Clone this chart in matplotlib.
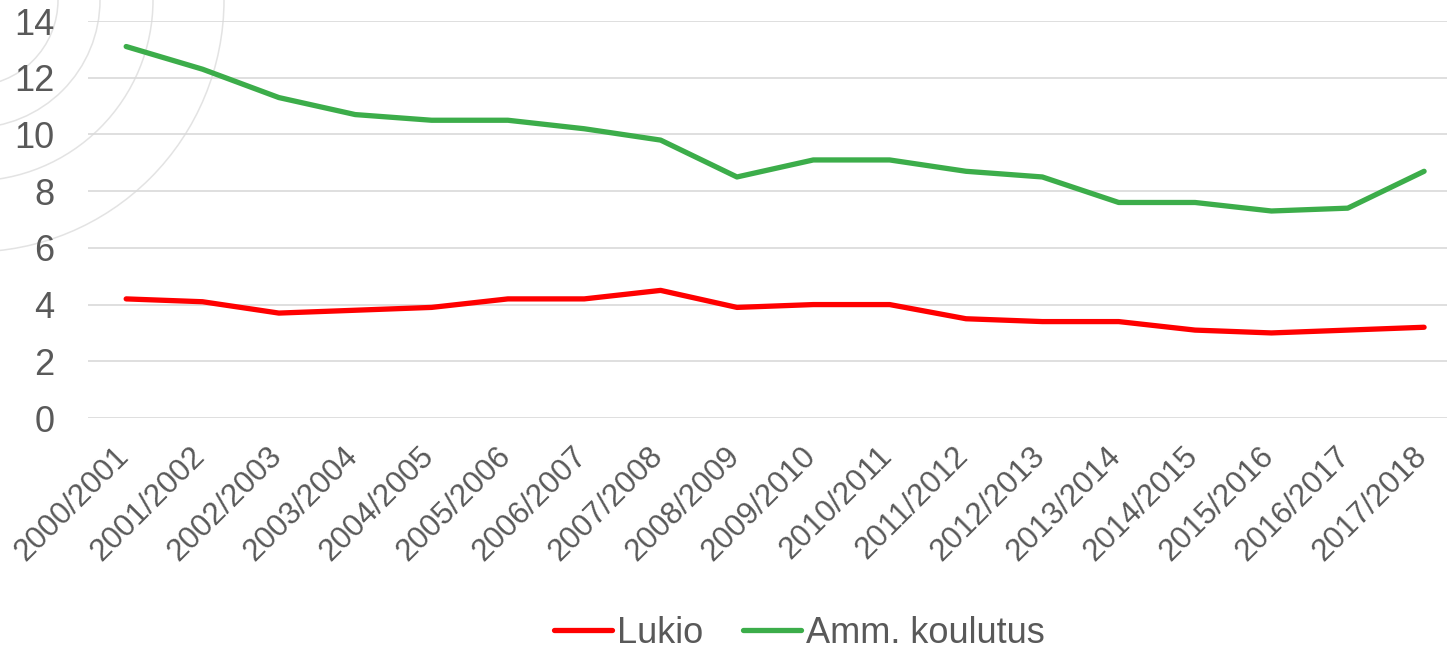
import matplotlib
matplotlib.use('Agg')
import matplotlib.pyplot as plt
from matplotlib.patches import Circle
from matplotlib.transforms import ScaledTranslation

plt.rcParams['font.family'] = ['Liberation Sans', 'DejaVu Sans']

years = ['2000/2001', '2001/2002', '2002/2003', '2003/2004', '2004/2005', '2005/2006',
         '2006/2007', '2007/2008', '2008/2009', '2009/2010', '2010/2011', '2011/2012',
         '2012/2013', '2013/2014', '2014/2015', '2015/2016', '2016/2017', '2017/2018']
lukio = [4.2, 4.1, 3.7, 3.8, 3.9, 4.2, 4.2, 4.5, 3.9, 4.0, 4.0, 3.5, 3.4, 3.4, 3.1, 3.0, 3.1, 3.2]
amm = [13.1, 12.3, 11.3, 10.7, 10.5, 10.5, 10.2, 9.8, 8.5, 9.1, 9.1, 8.7, 8.5, 7.6, 7.6, 7.3, 7.4, 8.7]

txt = '#595959'
grid = '#D9D9D9'

fig = plt.figure(figsize=(14.47, 6.5), dpi=100)

# koristeelliset kaaret vasemmassa yläkulmassa (pikselikoordinaatit)
bg = fig.add_axes([0, 0, 1, 1], zorder=0)
bg.set_xlim(0, 1447)
bg.set_ylim(650, 0)
bg.axis('off')
for r in [86, 128, 181, 252]:
    bg.add_patch(Circle((-28, 0), r, fill=False, ec='#E3E3E3', lw=1.1))

ax = fig.add_axes([88 / 1447, (650 - 418) / 650, (1447 - 88) / 1447, (418 - 21) / 650], zorder=1)
ax.patch.set_alpha(0)
x = range(len(years))
ax.plot(x, lukio, color='#FF0000', lw=3.8, label='Lukio', solid_capstyle='round')
ax.plot(x, amm, color='#3CAD4A', lw=3.8, label='Amm. koulutus', solid_capstyle='round')

ax.set_xlim(-0.5, 17.3)
ax.set_ylim(0, 14)
ax.set_yticks(range(0, 15, 2))
ax.set_xticks(list(x))
ax.set_xticklabels(years, rotation=45, ha='right', va='center', rotation_mode='anchor')
ax.tick_params(axis='both', length=0, colors=txt)
ax.tick_params(axis='y', labelsize=26, pad=24)
ax.tick_params(axis='x', labelsize=22.5, pad=24)
shift = ScaledTranslation(-2 / 100, 0, fig.dpi_scale_trans)
for lab in ax.get_xticklabels():
    lab.set_transform(lab.get_transform() + shift)
ax.grid(axis='y', color=grid, lw=1.2)
ax.set_axisbelow(True)
for s in ax.spines.values():
    s.set_visible(False)

fig.legend(loc='center', bbox_to_anchor=(0.5525, 0.026), ncol=2, frameon=False,
           fontsize=26, labelcolor=txt, handlelength=1.6, handletextpad=0.15,
           columnspacing=1.1)

fig.savefig('out.png', dpi=100)
